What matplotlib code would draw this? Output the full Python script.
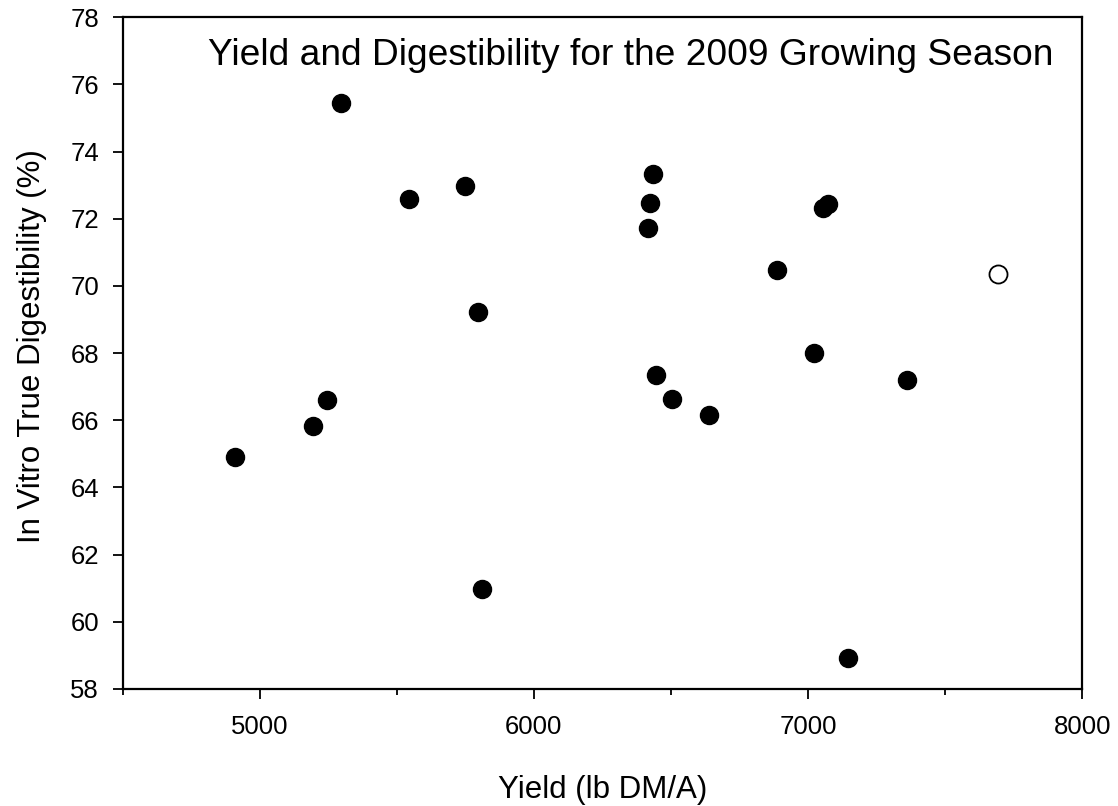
import matplotlib
matplotlib.use("Agg")
import matplotlib.pyplot as plt
from matplotlib.ticker import MultipleLocator

plt.rcParams['font.family'] = ['Liberation Sans', 'DejaVu Sans']

# filled points: yield (lb DM/A) and IVTD (%)
yield_filled = [5296, 5546, 5749, 5798, 6434, 6425, 6415, 7054, 7072, 6887,
                5245, 5196, 4909, 5811, 6446, 6505, 6638, 7021, 7361, 7145]
ivtd_filled = [75.46, 72.60, 72.98, 69.22, 73.33, 72.46, 71.74, 72.31, 72.44, 70.48,
               66.60, 65.83, 64.92, 60.98, 67.35, 66.64, 66.16, 68.01, 67.21, 58.91]

# open point
yield_open = [7694]
ivtd_open = [70.35]

fig = plt.figure(figsize=(11.18, 8.06), dpi=100)
ax = fig.add_axes([0.1096, 0.1452, 0.8585, 0.8333])

ax.plot(yield_filled, ivtd_filled, "o", ms=13, color="black", mec="black", ls="none")
ax.plot(yield_open, ivtd_open, "o", ms=13, mfc="white", mec="black", mew=1.3, ls="none")

ax.set_xlim(4500, 8000)
ax.set_ylim(58, 78)
ax.xaxis.set_major_locator(MultipleLocator(1000))
ax.xaxis.set_minor_locator(MultipleLocator(500))
ax.yaxis.set_major_locator(MultipleLocator(2))

ax.tick_params(axis="both", which="major", direction="out", length=7, width=1.3,
               labelsize=18.5)
ax.tick_params(axis="x", which="major", pad=12)
ax.tick_params(axis="y", which="major", pad=10)
ax.tick_params(axis="x", which="minor", direction="out", length=4.5, width=1.3)
for sp in ax.spines.values():
    sp.set_linewidth(1.6)

ax.set_xlabel("Yield (lb DM/A)", fontsize=22.5, labelpad=26)
ax.set_ylabel("In Vitro True Digestibility (%)", fontsize=22.5)
ax.yaxis.set_label_coords(-0.079, 0.51)

ax.text(0.529, 0.929, "Yield and Digestibility for the 2009 Growing Season",
        transform=ax.transAxes, ha="center", va="baseline", fontsize=26.7)

fig.savefig("out.png", dpi=100)
